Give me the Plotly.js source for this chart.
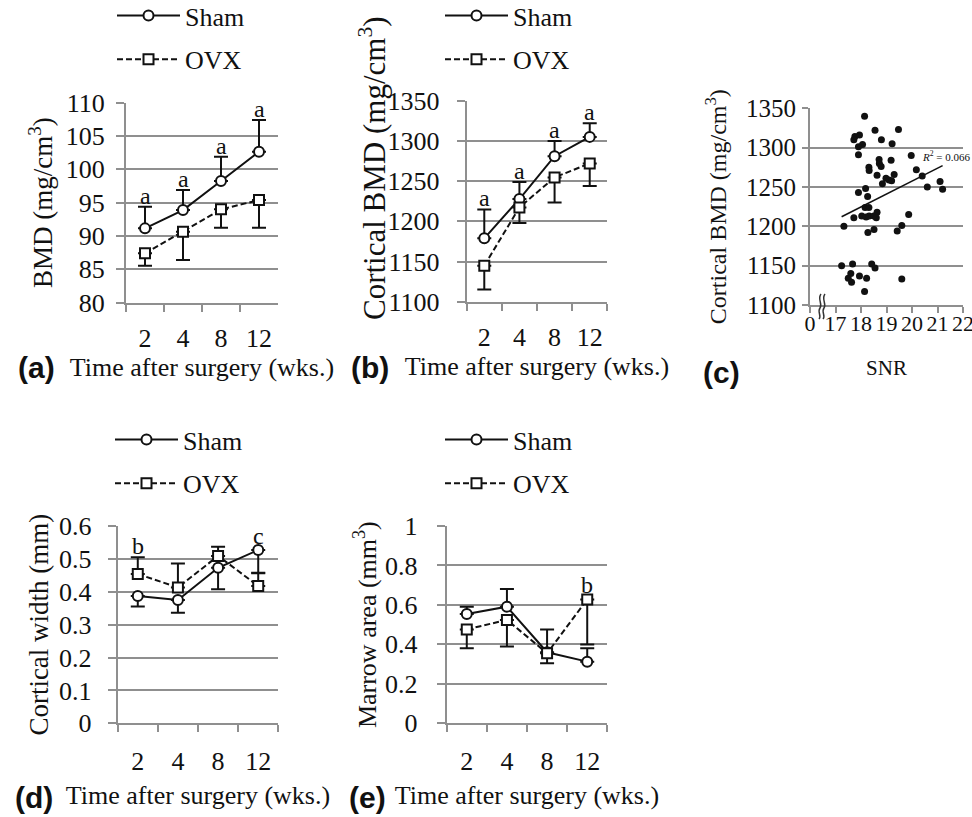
<!DOCTYPE html>
<html><head><meta charset="utf-8">
<script src="https://cdn.plot.ly/plotly-3.0.1.min.js"></script>
<style>html,body{margin:0;padding:0;background:#fff}#chart{width:972px;height:817px}</style>
</head><body><div id="chart"></div>
<script>
// ---------- data ----------
const weeks = ['2', '4', '8', '12'];

// (a) BMD (mg/cm3)
const bmdSham = [91.15, 93.9, 98.25, 102.65];
const bmdShamErr = [3.25, 3.0, 3.65, 4.75];
const bmdOvx = [87.4, 90.65, 94.0, 95.4];
const bmdOvxErr = [1.85, 4.25, 2.75, 4.15];
const bmdSig = ['a', 'a', 'a', 'a'];

// (b) Cortical BMD (mg/cm3)
const cbmdSham = [1178.8, 1227.7, 1281, 1305];
const cbmdShamErr = [36, 21.3, 19, 17];
const cbmdOvx = [1144.8, 1217.3, 1254.6, 1272];
const cbmdOvxErr = [29.5, 19.3, 31.1, 28.1];
const cbmdSig = ['a', 'a', 'a', 'a'];

// (c) Cortical BMD vs SNR
const snr = [18.14, 18.55, 19.47, 17.76, 17.94, 17.72, 18.06, 17.9, 18.8, 19.22,
  17.9, 18.71, 19.18, 19.97, 18.31, 18.32, 18.72, 18.79, 18.63, 18.98,
  19.1, 19.3, 18.84, 19.2, 20.17, 20.4, 20.6, 21.1, 21.2, 17.9,
  18.18, 18.26, 18.16, 18.31, 17.72, 18.03, 18.2, 18.32, 18.5, 18.63,
  18.6, 17.33, 18.27, 18.51, 19.42, 19.6, 19.87, 17.24, 17.67, 18.42,
  18.55, 17.6, 17.5, 17.63, 17.94, 18.22, 18.14, 19.6];
const snrBmd = [1340, 1322, 1323, 1314, 1316, 1310, 1304, 1301, 1310, 1305,
  1291, 1285, 1284, 1290, 1275, 1271, 1280, 1276, 1265, 1261,
  1259, 1266, 1254, 1258, 1272, 1264, 1250, 1257, 1247, 1243,
  1248, 1238, 1224, 1224, 1211, 1213, 1212, 1213, 1213, 1218,
  1211, 1200, 1192, 1196, 1194, 1201, 1215, 1150, 1152, 1152,
  1147, 1140, 1134, 1129, 1137, 1134, 1117, 1133];
const snrTicks = [16, 17, 18, 19, 20, 21, 22];
const snrTickText = ['0', '17', '18', '19', '20', '21', '22'];
const r2Label = '<i>R</i><sup>2</sup> = 0.066';

// (d) Cortical width (mm)
const cwSham = [0.387, 0.375, 0.473, 0.527];
const cwShamErr = [0.032, 0.039, 0.065, 0.071];
const cwOvx = [0.454, 0.413, 0.509, 0.4175];
const cwOvxErr = [0.051, 0.073, 0.028, 0.04];
const cwSig = ['b', '', '', 'c'];

// (e) Marrow area (mm3)
const maSham = [0.554, 0.591, 0.36, 0.3125];
const maShamErr = [0.037, 0.09, 0.116, 0.0675];
const maOvx = [0.476, 0.524, 0.355, 0.628];
const maOvxErr = [0.096, 0.135, 0.051, 0.228];
const maSig = ['', '', '', 'b'];

// ---------- style ----------
const SERIF = '"Liberation Serif", "Times New Roman", Times, serif';
const SANS = '"Liberation Sans", Arial, sans-serif';
const GRAY = '#8f8f8f';
const INK = '#111';
const FS = 26;
const W = 972, H = 817;
const px = v => v / W;
const py = v => 1 - v / H;
const zeros = weeks.map(() => 0);

function seriesPair(n, legendId, sham, shamPlus, shamMinus, ovx, ovxPlus, ovxMinus) {
  const xa = 'x' + (n === 1 ? '' : n), ya = 'y' + (n === 1 ? '' : n);
  const eb = (p, m) => ({type: 'data', symmetric: false, array: p, arrayminus: m,
    color: INK, thickness: 2, width: 7});
  return [
    {x: weeks, y: sham, xaxis: xa, yaxis: ya, name: 'Sham', legend: legendId,
      legendgroup: legendId + 's', mode: 'lines+markers',
      line: {color: INK, width: 2},
      marker: {symbol: 'circle', size: 10, color: '#fff', line: {color: INK, width: 2}},
      error_y: eb(shamPlus, shamMinus), hoverinfo: 'skip'},
    {x: weeks, y: ovx, xaxis: xa, yaxis: ya, name: 'OVX', legend: legendId,
      legendgroup: legendId + 'o', mode: 'lines+markers',
      line: {color: INK, width: 2, dash: '6px,3px'},
      marker: {symbol: 'square', size: 10, color: '#fff', line: {color: INK, width: 2}},
      error_y: eb(ovxPlus, ovxMinus), hoverinfo: 'skip'}
  ];
}

// significance letters sit on top of the highest bar end (or marker) of each week
function sigNotes(n, sig, sham, shamPlus, ovx, ovxPlus) {
  const xa = 'x' + (n === 1 ? '' : n), ya = 'y' + (n === 1 ? '' : n);
  const out = [];
  sig.forEach((s, i) => {
    if (!s) return;
    const tS = sham[i] + shamPlus[i], tO = ovx[i] + ovxPlus[i];
    const top = Math.max(tS, tO);
    const fromMarker = (top === tS ? shamPlus[i] : ovxPlus[i]) === 0;
    out.push({xref: xa, yref: ya, x: i, y: top, text: s, showarrow: false,
      yanchor: 'bottom', yshift: fromMarker ? -1 : -4, font: {family: SERIF, size: 24, color: INK}});
  });
  return out;
}

function catX(domain, anchor, standoff, tstand) {
  return {domain: domain, anchor: anchor, type: 'category', categoryorder: 'array',
    categoryarray: weeks, range: [-0.5, 3.5], tickson: 'boundaries', tickangle: 0,
    ticks: 'outside', ticklen: 7, tickwidth: 2, tickcolor: GRAY,
    showline: true, linecolor: GRAY, linewidth: 2, showgrid: false, zeroline: false,
    tickfont: {family: SERIF, size: FS, color: INK}, ticklabelstandoff: standoff,
    title: {text: 'Time after surgery (wks.)', font: {family: SERIF, size: FS, color: INK}, standoff: tstand},
    fixedrange: true};
}
function linY(domain, anchor, range, dtick, title, standoff, lblOff, tsize) {
  const ax = {domain: domain, anchor: anchor, range: range, dtick: dtick, tick0: range[0],
    ticks: 'outside', ticklen: 8, tickwidth: 2, tickcolor: GRAY,
    showline: true, linecolor: GRAY, linewidth: 2,
    showgrid: true, gridcolor: GRAY, gridwidth: 2, zeroline: false,
    tickfont: {family: SERIF, size: FS, color: INK}, ticklabelstandoff: lblOff,
    fixedrange: true};
  if (title) ax.title = {text: title, font: {family: SERIF, size: tsize || FS, color: INK}, standoff: standoff};
  return ax;
}

// ---------- traces ----------
const traces = [].concat(
  seriesPair(1, 'legend', bmdSham, bmdShamErr, zeros, bmdOvx, zeros, bmdOvxErr),
  seriesPair(2, 'legend2', cbmdSham, cbmdShamErr, zeros, cbmdOvx, zeros, cbmdOvxErr),
  seriesPair(4, 'legend3', cwSham, zeros, cwShamErr, cwOvx, cwOvxErr, zeros),
  seriesPair(5, 'legend4', maSham, maShamErr, zeros, maOvx, zeros, maOvxErr)
);

// scatter (c)
traces.push({x: snr, y: snrBmd, xaxis: 'x3', yaxis: 'y3', mode: 'markers', showlegend: false,
  marker: {color: INK, size: 7}, hoverinfo: 'skip'});
// least-squares trend line over the data range
(function () {
  const n = snr.length;
  const mx = snr.reduce((a, b) => a + b, 0) / n;
  const my = snrBmd.reduce((a, b) => a + b, 0) / n;
  let sxy = 0, sxx = 0;
  for (let i = 0; i < n; i++) { sxy += (snr[i] - mx) * (snrBmd[i] - my); sxx += (snr[i] - mx) ** 2; }
  const b = sxy / sxx, a = my - b * mx;
  const x0 = Math.min(...snr), x1 = Math.max(...snr);
  traces.push({x: [x0, x1], y: [a + b * x0, a + b * x1], xaxis: 'x3', yaxis: 'y3', mode: 'lines',
    showlegend: false, line: {color: INK, width: 1.5}, hoverinfo: 'skip'});
})();

// ---------- layout ----------
function legendAt(left, top) {
  return {x: px(left), y: py(top), xanchor: 'left', yanchor: 'top', orientation: 'v',
    bgcolor: 'rgba(0,0,0,0)', borderwidth: 0, itemwidth: 63, traceorder: 'grouped',
    tracegroupgap: 7, font: {family: SERIF, size: FS, color: INK}, itemclick: false, itemdoubleclick: false};
}

// broken-axis squiggle for (c)
function squiggle(x) {
  const p = [[x + 1, 294], [x - 3, 299], [x + 3, 304], [x, 308], [x - 3, 312], [x + 2, 316], [x - 1, 319]];
  const f = q => px(q[0]) + ',' + py(q[1]);
  return 'M' + f(p[0]) + ' C' + f(p[1]) + ' ' + f(p[2]) + ' ' + f(p[3]) +
    ' C' + f(p[4]) + ' ' + f(p[5]) + ' ' + f(p[6]);
}

const panelLabel = (t, x, y) => ({xref: 'paper', yref: 'paper', x: px(x), y: py(y), text: '<b>' + t + '</b>',
  showarrow: false, xanchor: 'center', yanchor: 'middle', font: {family: SANS, size: 30, color: INK}});

const annotations = [].concat(
  sigNotes(1, bmdSig, bmdSham, bmdShamErr, bmdOvx, zeros),
  sigNotes(2, cbmdSig, cbmdSham, cbmdShamErr, cbmdOvx, zeros),
  sigNotes(4, cwSig, cwSham, zeros, cwOvx, cwOvxErr),
  sigNotes(5, maSig, maSham, maShamErr, maOvx, zeros),
  [
    panelLabel('(a)', 36, 367), panelLabel('(b)', 370, 367), panelLabel('(c)', 721, 372),
    panelLabel('(d)', 34, 797), panelLabel('(e)', 367, 797),
    {xref: 'x3', yref: 'y3', x: 20.3, y: 1290, text: r2Label, showarrow: false, xanchor: 'left',
      yanchor: 'middle', font: {family: SERIF, size: 11, color: INK}},
    // (b) y-axis title: longer than the axis, shifted upward as in the figure
    {xref: 'paper', yref: 'paper', x: px(373), y: py(168), text: 'Cortical BMD (mg/cm<sup>3</sup>)',
      textangle: -90, showarrow: false, xanchor: 'center', yanchor: 'middle',
      font: {family: SERIF, size: 31, color: INK}}
  ]
);

const layout = {
  width: W, height: H, margin: {l: 0, r: 0, t: 0, b: 0},
  paper_bgcolor: '#fff', plot_bgcolor: '#fff', showlegend: true,
  font: {family: SERIF, size: FS, color: INK},
  xaxis: catX([px(126), px(278)], 'y', 11, 0),
  yaxis: linY([py(302.7), py(102.7)], 'x', [80, 110], 5, 'BMD (mg/cm<sup>3</sup>)', 5, 6, 27),
  xaxis2: catX([px(466.7), px(607.3)], 'y2', 11, 0),
  yaxis2: linY([py(301.7), py(100.7)], 'x2', [1100, 1350], 50, null, 6, 12),
  xaxis3: {domain: [px(810), px(963)], anchor: 'y3', range: [16, 22], tickvals: snrTicks, ticktext: snrTickText,
    tickangle: 0, ticks: 'outside', ticklen: 6, tickwidth: 2, tickcolor: GRAY, showline: true, linecolor: GRAY,
    linewidth: 2, showgrid: false, zeroline: false, tickfont: {family: SERIF, size: 22, color: INK},
    ticklabelstandoff: -8, ticklabeloverflow: 'allow',
    title: {text: 'SNR', font: {family: SERIF, size: 21, color: INK}, standoff: 25}, fixedrange: true},
  yaxis3: {domain: [py(305), py(108.3)], anchor: 'x3', range: [1100, 1350], dtick: 50, tick0: 1100,
    ticks: 'outside', ticklen: 6, tickwidth: 2, tickcolor: GRAY, showline: true, linecolor: GRAY, linewidth: 2,
    showgrid: true, gridcolor: GRAY, gridwidth: 2, zeroline: false,
    tickfont: {family: SERIF, size: 25, color: INK}, ticklabelstandoff: 1,
    title: {text: 'Cortical BMD (mg/cm<sup>3</sup>)', font: {family: SERIF, size: 24, color: INK}, standoff: 13},
    fixedrange: true},
  xaxis4: catX([px(117.7), px(278.3)], 'y4', 13, 11),
  yaxis4: linY([py(723.3), py(526)], 'x4', [0, 0.6], 0.1, 'Cortical width (mm)', 3, 11, 27),
  xaxis5: catX([px(446.7), px(607.3)], 'y5', 13, 11),
  yaxis5: linY([py(723.3), py(526)], 'x5', [0, 1], 0.2, 'Marrow area (mm<sup>3</sup>)', 1, 14, 26),
  legend: legendAt(112, 0),
  legend2: legendAt(440, 0),
  legend3: legendAt(110, 416),
  legend4: legendAt(440, 416),
  annotations: annotations,
  shapes: [
    {type: 'path', xref: 'paper', yref: 'paper', path: squiggle(820), line: {color: '#333', width: 1.5}},
    {type: 'path', xref: 'paper', yref: 'paper', path: squiggle(824), line: {color: '#333', width: 1.5}}
  ]
};

Plotly.newPlot('chart', traces, layout, {displayModeBar: false, staticPlot: true}).then(function (gd) {
  // the top legends sit slightly above the figure edge in the original; Plotly keeps legends
  // inside the figure, so nudge those two groups up a few pixels.
  ['legend', 'legend2'].forEach(function (id) {
    const g = gd.querySelector('g.' + id);
    if (!g) return;
    const t = g.getAttribute('transform') || '';
    const m = /translate\(\s*([-\d.]+)[ ,]+([-\d.]+)\s*\)/.exec(t);
    if (m) g.setAttribute('transform', 'translate(' + m[1] + ',' + (parseFloat(m[2]) - 8) + ')');
  });
});
</script></body></html>
